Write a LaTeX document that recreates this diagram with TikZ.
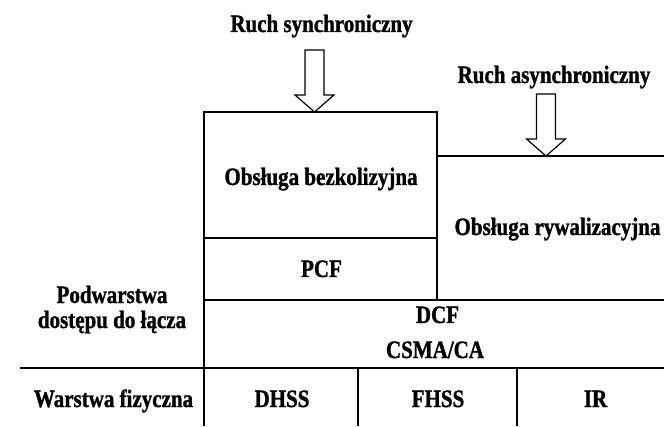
\documentclass[tikz,border=0pt]{standalone}
\usepackage{fontspec}
\setmainfont{Liberation Serif}
\newfontfamily\lblfont{Liberation Serif Bold}[FakeStretch=0.84, FakeBold=1.2]
\usepackage{tikz}
\usetikzlibrary{positioning}

\begin{document}
\begin{tikzpicture}[
  x=1pt, y=1pt,
  lbl/.style={font=\fontsize{25}{25}\selectfont\lblfont, inner sep=0pt, align=center, anchor=base},
  grid/.style={line width=1.4pt},
  floor/.style={line width=2.4pt},
  hollowarrow/.pic={\draw[line width=1.2pt, fill=white]
    (0,0) -- (-19.5,17) -- (-9.5,17) -- (-9.5,62) -- (9.5,62) -- (9.5,17) -- (19.5,17) -- cycle;}
]
\useasboundingbox (0,0) rectangle (664,426);

% traffic labels
\node[lbl] (sync) at (321.5,394) {Ruch synchroniczny};
\node[lbl] (async) at (554,343) {Ruch asynchroniczny};

% corner points of the layers
\coordinate (bezTL) at (204,314);
\coordinate (bezTR) at (437,314);
\coordinate (rywTL) at (437,270);
\coordinate (rywTR) at (664,270);
\coordinate (pcfL) at (204,188);
\coordinate (pcfR) at (437,188);
\coordinate (dcfL) at (204,126);
\coordinate (dcfR) at (664,126);
\coordinate (phyL) at (20,58);
\coordinate (phyR) at (664,58);
\coordinate (macB) at (204,0);
\coordinate (sep1T) at (358,58);
\coordinate (sep1B) at (358,0);
\coordinate (sep2T) at (517,58);
\coordinate (sep2B) at (517,0);

% lines of the layers
\draw[grid] (macB) -- (bezTL) -- (bezTR) -- (dcfL -| bezTR);
\draw[grid] (rywTL) -- (rywTR);
\draw[grid] (pcfL) -- (pcfR);
\draw[grid] (dcfL) -- (dcfR);
\draw[floor] (phyL) -- (phyR);
\draw[grid] (sep1T) -- (sep1B);
\draw[grid] (sep2T) -- (sep2B);

% arrows into the layers
\pic at (314.5,314) {hollowarrow};
\pic at (546,270) {hollowarrow};

% layer texts
\node[lbl] (bez) at (321,241) {Obsługa bezkolizyjna};
\node[lbl] (pcf) at (321.5,149) {PCF};
\node[lbl] (ryw) at (557.5,191) {Obsługa rywalizacyjna};
\node[lbl] (dcf) at (437.5,103) {DCF};
\node[lbl] (csma) at (435,68) {CSMA/CA};
\node[lbl] (mac) at (112,98) {Podwarstwa\\dostępu do łącza};
\node[lbl] (phy) at (113.5,19) {Warstwa fizyczna};
\node[lbl] (dhss) at (282,19) {DHSS};
\node[lbl] (fhss) at (438,19) {FHSS};
\node[lbl] (ir) at (595.5,19) {IR};
\end{tikzpicture}
\end{document}
